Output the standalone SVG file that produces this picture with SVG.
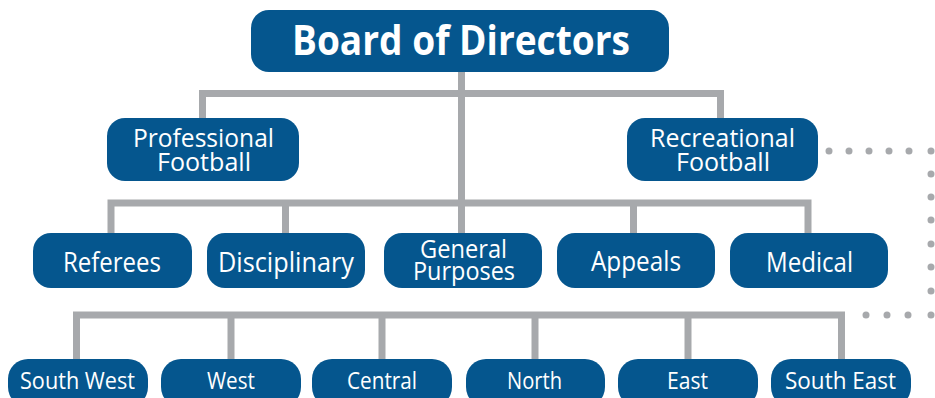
<svg xmlns="http://www.w3.org/2000/svg" width="935" height="398" viewBox="0 0 935 398">
  <style>
    .box { fill: #05568e; }
    .lbl { fill: #ffffff; font-family: "Open Sans", "Liberation Sans", sans-serif; text-anchor: middle; }
    .title { font-size: 42px; font-weight: 700; }
    .mid { font-size: 27px; }
    .two { font-size: 25px; }
    .low { font-size: 24px; }
    .link { fill: none; stroke: #a7a9ac; stroke-width: 7; stroke-linejoin: miter; }
    .dot { fill: #a7a9ac; }
  </style>
  <rect width="935" height="398" fill="#ffffff"/>

  <g id="connectors">
    <!-- board to the two football branches -->
    <path class="link" d="M202.5,118 V93.5 H720.5 V118"/>
    <!-- board straight down to the committees bar -->
    <path class="link" d="M461.5,72 V233"/>
    <!-- committees bar -->
    <path class="link" d="M111,233 V203 H808 V233"/>
    <path class="link" d="M285.5,203 V233 M633.5,203 V233"/>
    <!-- regions bar -->
    <path class="link" d="M76.5,359 V315 H841.5 V359"/>
    <path class="link" d="M231,315 V359 M382,315 V359 M535,315 V359 M688,315 V359"/>
    <!-- dotted link from recreational football to the regions -->
    <g id="dotted-link">
      <circle class="dot" cx="829" cy="151" r="3.5"/>
      <circle class="dot" cx="849" cy="151" r="3.5"/>
      <circle class="dot" cx="869" cy="151" r="3.5"/>
      <circle class="dot" cx="889" cy="151" r="3.5"/>
      <circle class="dot" cx="909" cy="151" r="3.5"/>
      <circle class="dot" cx="931" cy="151" r="3.5"/>
      <circle class="dot" cx="931" cy="174" r="3.5"/>
      <circle class="dot" cx="931" cy="197" r="3.5"/>
      <circle class="dot" cx="931" cy="220" r="3.5"/>
      <circle class="dot" cx="931" cy="244" r="3.5"/>
      <circle class="dot" cx="931" cy="267" r="3.5"/>
      <circle class="dot" cx="931" cy="291" r="3.5"/>
      <circle class="dot" cx="931" cy="315" r="3.5"/>
      <circle class="dot" cx="908" cy="315" r="3.5"/>
      <circle class="dot" cx="887" cy="315" r="3.5"/>
      <circle class="dot" cx="866" cy="315" r="3.5"/>
    </g>
  </g>

  <g id="board">
    <rect class="box" x="251" y="10" width="418" height="62" rx="18"/>
    <text class="lbl title" x="461" y="55" textLength="338" lengthAdjust="spacingAndGlyphs">Board of Directors</text>
  </g>

  <g id="professional-football">
    <rect class="box" x="107" y="118" width="192" height="63" rx="18"/>
    <text class="lbl two" x="203.5" y="147" textLength="141" lengthAdjust="spacingAndGlyphs">Professional</text>
    <text class="lbl two" x="204" y="171" textLength="94" lengthAdjust="spacingAndGlyphs">Football</text>
  </g>

  <g id="recreational-football">
    <rect class="box" x="627" y="118" width="191" height="63" rx="18"/>
    <text class="lbl two" x="722.5" y="147" textLength="145" lengthAdjust="spacingAndGlyphs">Recreational</text>
    <text class="lbl two" x="723" y="171" textLength="94" lengthAdjust="spacingAndGlyphs">Football</text>
  </g>

  <g id="referees">
    <rect class="box" x="33" y="233" width="159" height="55" rx="18"/>
    <text class="lbl mid" x="112" y="272" textLength="98" lengthAdjust="spacingAndGlyphs">Referees</text>
  </g>

  <g id="disciplinary">
    <rect class="box" x="207" y="233" width="158" height="55" rx="18"/>
    <text class="lbl mid" x="286" y="272" textLength="136" lengthAdjust="spacingAndGlyphs">Disciplinary</text>
  </g>

  <g id="general-purposes">
    <rect class="box" x="384" y="233" width="158" height="55" rx="18"/>
    <text class="lbl two" x="463.5" y="258" textLength="87" lengthAdjust="spacingAndGlyphs">General</text>
    <text class="lbl two" x="464" y="280" textLength="102" lengthAdjust="spacingAndGlyphs">Purposes</text>
  </g>

  <g id="appeals">
    <rect class="box" x="557" y="233" width="158" height="55" rx="18"/>
    <text class="lbl mid" x="636" y="271" textLength="90" lengthAdjust="spacingAndGlyphs">Appeals</text>
  </g>

  <g id="medical">
    <rect class="box" x="730" y="233" width="158" height="55" rx="18"/>
    <text class="lbl mid" x="809.5" y="272" textLength="87" lengthAdjust="spacingAndGlyphs">Medical</text>
  </g>

  <g id="south-west">
    <rect class="box" x="8" y="359" width="140" height="48" rx="20"/>
    <text class="lbl low" x="77.5" y="389" textLength="115" lengthAdjust="spacingAndGlyphs">South West</text>
  </g>

  <g id="west">
    <rect class="box" x="161" y="359" width="140" height="48" rx="20"/>
    <text class="lbl low" x="231" y="389" textLength="48" lengthAdjust="spacingAndGlyphs">West</text>
  </g>

  <g id="central">
    <rect class="box" x="312" y="359" width="140" height="48" rx="20"/>
    <text class="lbl low" x="382" y="389" textLength="70" lengthAdjust="spacingAndGlyphs">Central</text>
  </g>

  <g id="north">
    <rect class="box" x="466" y="359" width="139" height="48" rx="20"/>
    <text class="lbl low" x="534.5" y="389" textLength="55" lengthAdjust="spacingAndGlyphs">North</text>
  </g>

  <g id="east">
    <rect class="box" x="618" y="359" width="140" height="48" rx="20"/>
    <text class="lbl low" x="687.5" y="389" textLength="41" lengthAdjust="spacingAndGlyphs">East</text>
  </g>

  <g id="south-east">
    <rect class="box" x="771" y="359" width="140" height="48" rx="20"/>
    <text class="lbl low" x="840.5" y="389" textLength="111" lengthAdjust="spacingAndGlyphs">South East</text>
  </g>
</svg>
